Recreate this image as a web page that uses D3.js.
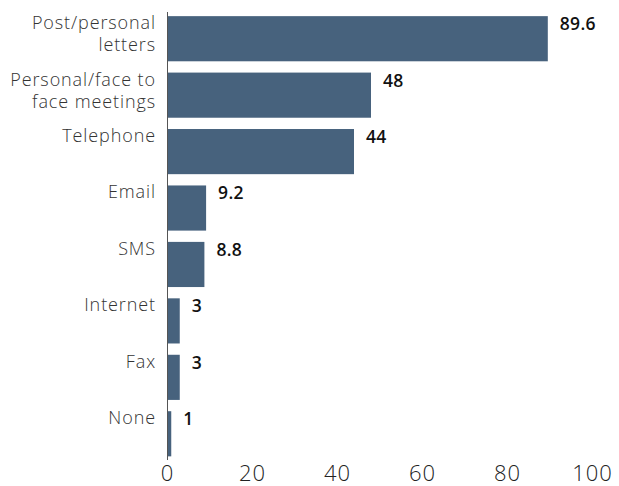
<!DOCTYPE html>
<html><head><meta charset="utf-8">
<script src="https://cdn.jsdelivr.net/npm/d3@7"></script>
<style>body{margin:0;background:#fff;} svg{display:block;}</style>
</head><body>
<svg id="c" width="619" height="486"></svg>
<script>
const categories = ["Post/personal letters","Personal/face to face meetings","Telephone","Email","SMS","Internet","Fax","None"];
const labelLines = [["Post/personal","letters"],["Personal/face to","face meetings"],["Telephone"],["Email"],["SMS"],["Internet"],["Fax"],["None"]];
const values = [89.6,48,44,9.2,8.8,3,3,1];
const valueLabels = ["89.6","48","44","9.2","8.8","3","3","1"];
const ticks = [0,20,40,60,80,100];

const svg = d3.select("#c");
const x = d3.scaleLinear().domain([0,100]).range([167,592]);
const y = d3.scaleBand().domain(categories).range([10.5,462]).paddingInner(0.2).paddingOuter(0.1);
const font = "'Open Sans', sans-serif";

svg.selectAll("rect.bar").data(values).enter().append("rect")
  .attr("x", x(0)).attr("y",(d,i)=>y(categories[i]))
  .attr("width", d=>x(d)-x(0)).attr("height", y.bandwidth())
  .attr("fill","#47627d");

svg.append("line").attr("x1",x(0)+0.5).attr("x2",x(0)+0.5).attr("y1",12).attr("y2",460)
  .attr("stroke","#555").attr("stroke-width",1);

// category labels
labelLines.forEach((lines,i)=>{
  const t = svg.append("text").attr("text-anchor","end").attr("font-family",font)
    .attr("font-weight",300).attr("font-size",18).attr("letter-spacing","0.9px").attr("fill","#333");
  lines.forEach((ln,j)=>{
    t.append("tspan").attr("x",156).attr("y", y(categories[i]) + 13 + j*22).text(ln);
  });
});

// value labels
svg.selectAll("text.val").data(values).enter().append("text")
  .attr("x", d=>x(d)+12).attr("y",(d,i)=>y(categories[i])+14)
  .attr("font-family",font).attr("font-weight",600).attr("font-size",17.5).attr("letter-spacing","0.3px").attr("fill","#111")
  .text((d,i)=>valueLabels[i]);

// x axis tick labels
const ax = d3.axisBottom(x).tickValues(ticks).tickSize(0).tickPadding(0).tickFormat(d3.format("d"));
const g = svg.append("g").attr("transform","translate(0,466)").call(ax);
g.select(".domain").remove();
g.selectAll("text").attr("font-family",font).attr("font-weight",300).attr("font-size",22).attr("letter-spacing","1px").attr("fill","#222").attr("dy","0.68em");
</script>
</body></html>
